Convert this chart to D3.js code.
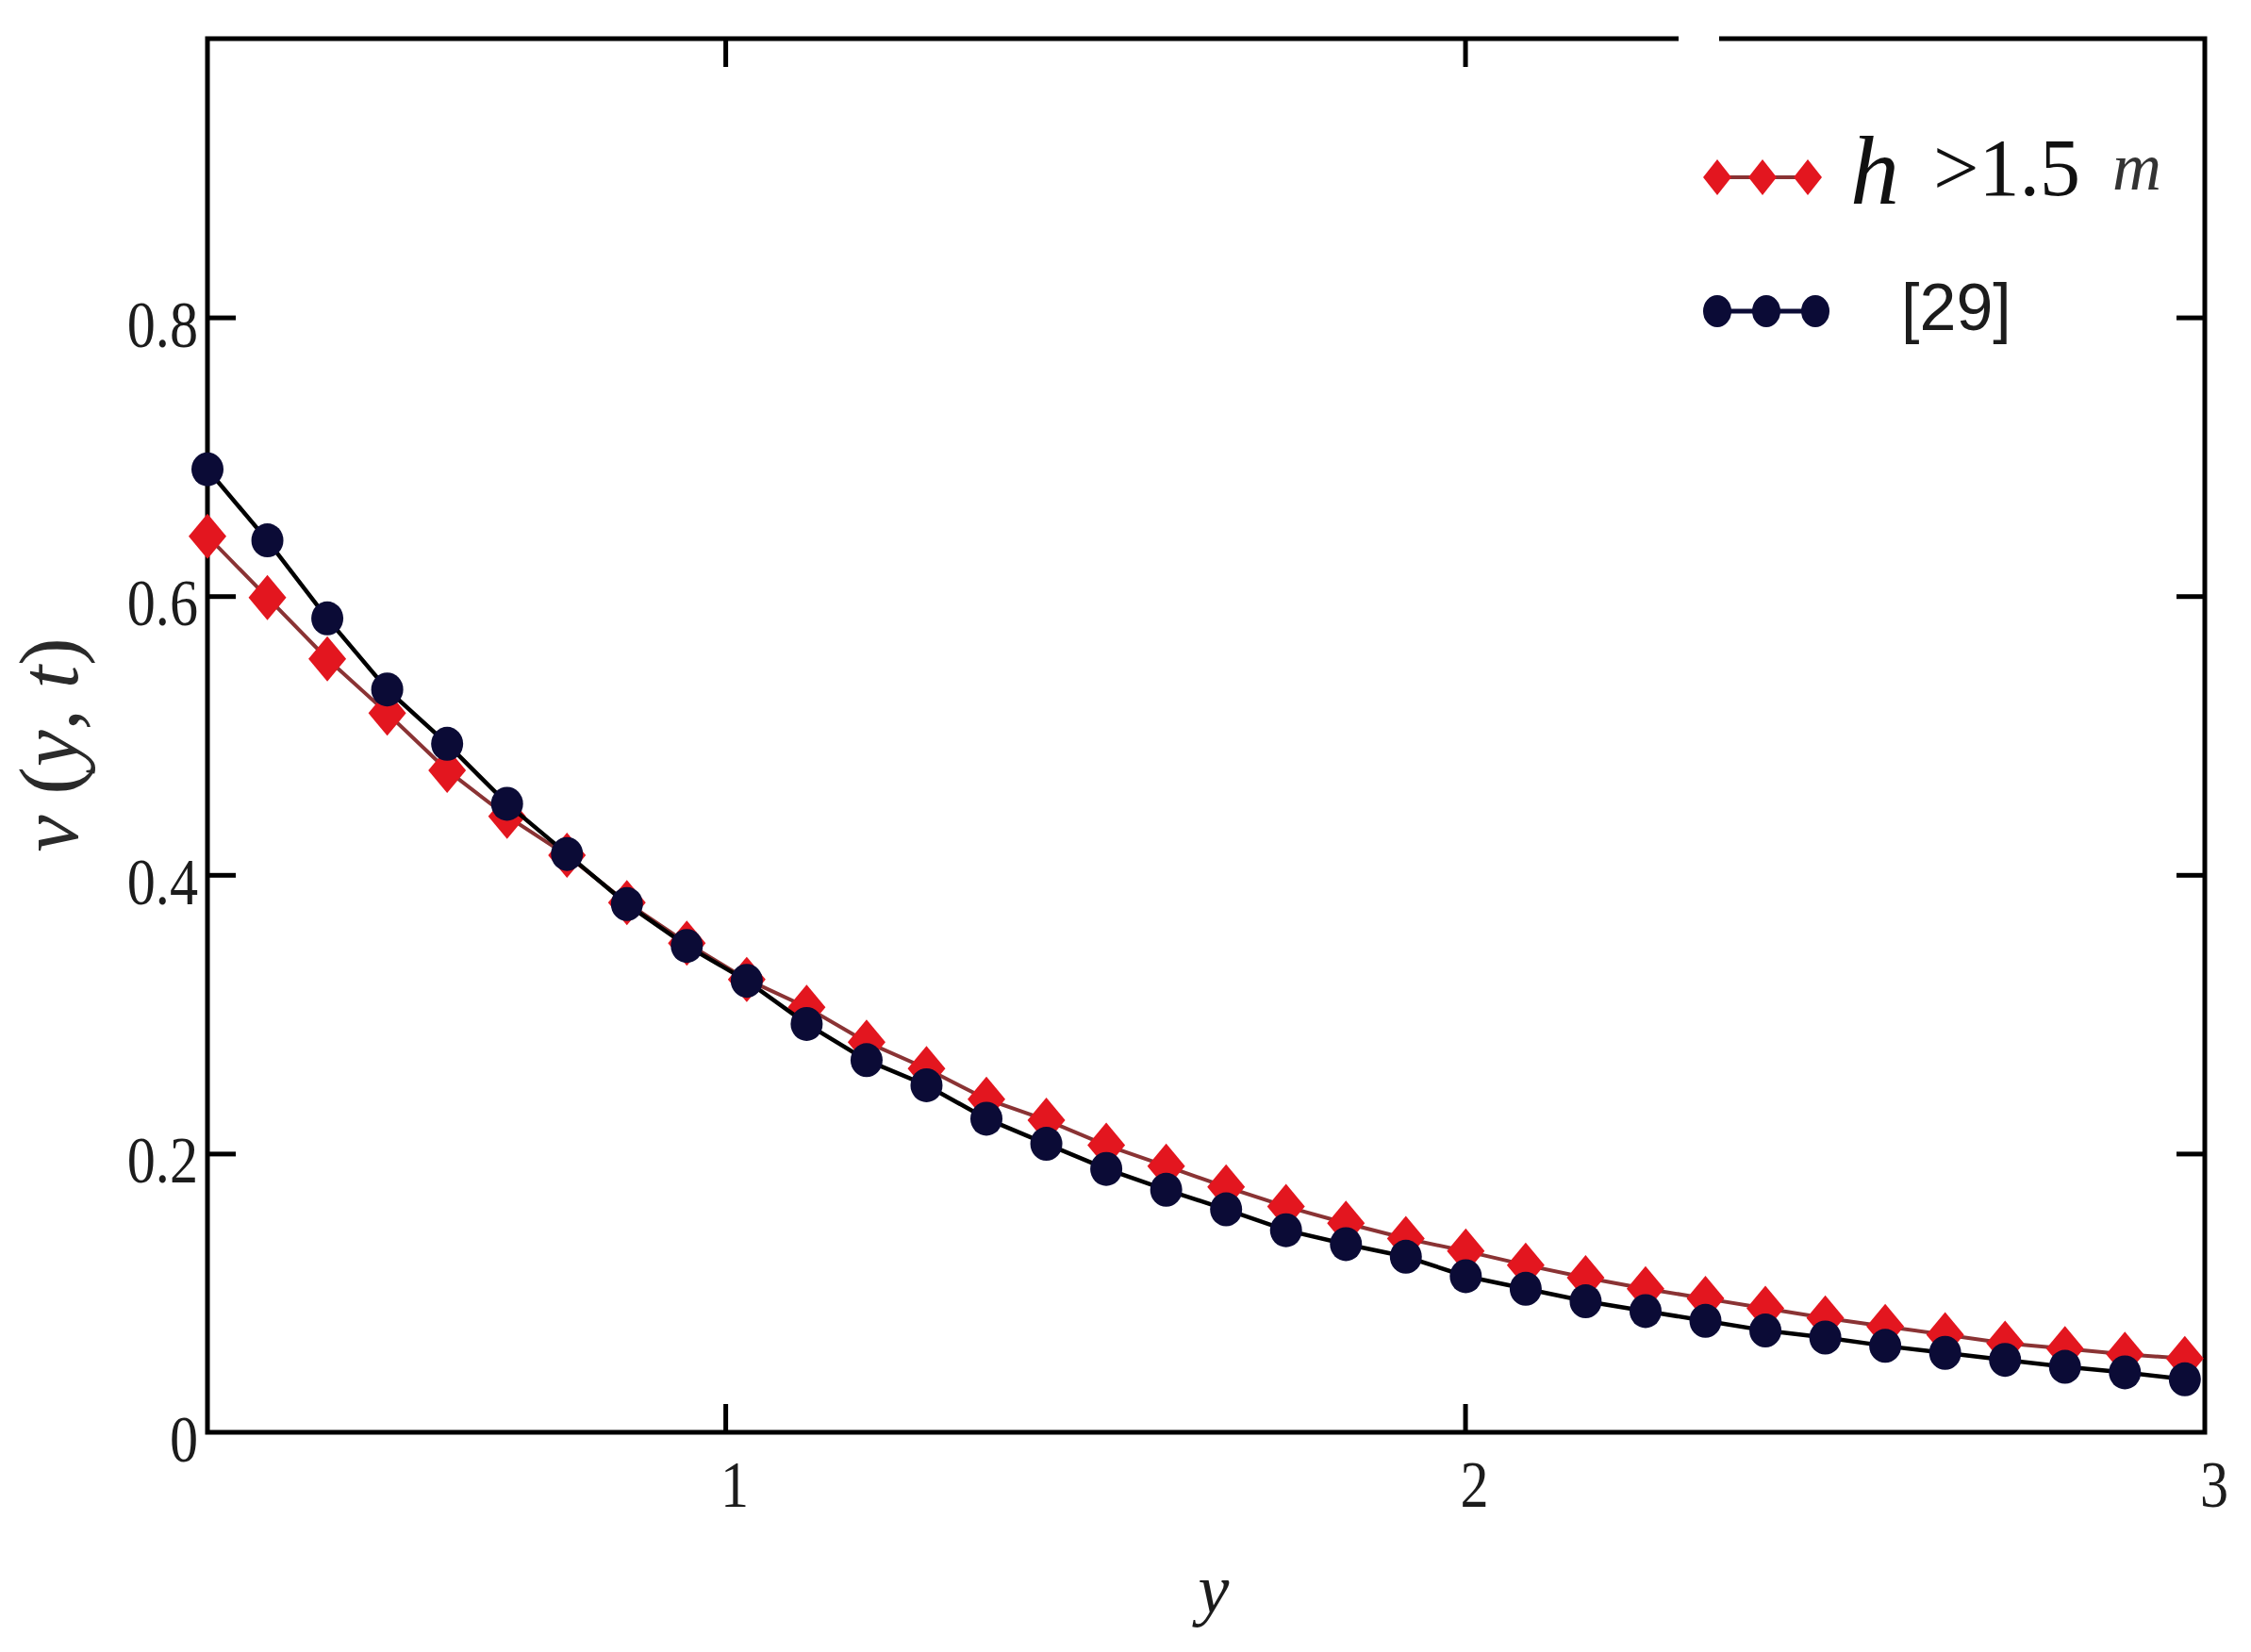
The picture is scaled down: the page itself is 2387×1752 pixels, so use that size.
<!DOCTYPE html>
<html lang="en">
<head>
    <meta charset="UTF-8">
    <title>v(y,t) profile</title>
    <script src="https://cdn.jsdelivr.net/npm/d3@7"></script>
    <style>
        body { margin: 0; background: #fff; }
    </style>
</head>
<body>
<svg width="2387" height="1752"></svg>

<script>

    // sample positions along y
    var yPos = [0.300, 0.381, 0.462, 0.543, 0.624, 0.705, 0.786, 0.867, 0.948, 1.029,
        1.110, 1.191, 1.272, 1.353, 1.434, 1.515, 1.596, 1.677, 1.758, 1.839,
        1.920, 2.001, 2.082, 2.163, 2.244, 2.325, 2.406, 2.487, 2.568, 2.649,
        2.730, 2.811, 2.892, 2.973];

    // h > 1.5 m (red)
    var vRed = [0.643, 0.599, 0.555, 0.516, 0.475, 0.442, 0.414, 0.380, 0.351, 0.325,
        0.305, 0.280, 0.261, 0.239, 0.224, 0.206, 0.191, 0.176, 0.162, 0.150,
        0.139, 0.130, 0.120, 0.111, 0.103, 0.096, 0.089, 0.082, 0.076, 0.070,
        0.064, 0.060, 0.056, 0.053];

    // [29] (black)
    var vRef = [0.691, 0.640, 0.584, 0.533, 0.494, 0.451, 0.415, 0.379, 0.349, 0.324,
        0.293, 0.267, 0.249, 0.225, 0.207, 0.189, 0.174, 0.160, 0.145, 0.135,
        0.126, 0.112, 0.103, 0.094, 0.087, 0.080, 0.073, 0.068, 0.062, 0.057,
        0.052, 0.047, 0.043, 0.038];

    var xTicks = [1, 2];
    var xLabels = [1, 2, 3];
    var yTicks = [0.2, 0.4, 0.6, 0.8];
    var yLabels = [0, 0.2, 0.4, 0.6, 0.8];

    var svg = d3.select("svg");

    var x = d3.scaleLinear().domain([0.3, 3]).range([220, 2338]);
    var y = d3.scaleLinear().domain([0, 1]).range([1519, 41]);

    var redFill = "#e3161f", redLine = "#8a3334";
    var navy = "#0b0b36";

    svg.append("rect").attr("width", 2387).attr("height", 1752).attr("fill", "#fff");

    /* ticks, all pointing inward */
    var tickLen = -30;
    var axes = [
        [d3.axisBottom(x).tickValues(xTicks), "translate(0," + y(0) + ")"],
        [d3.axisTop(x).tickValues(xTicks), "translate(0," + y(1) + ")"],
        [d3.axisLeft(y).tickValues(yTicks), "translate(" + x(0.3) + ",0)"],
        [d3.axisRight(y).tickValues(yTicks), "translate(" + x(3) + ",0)"]
    ];
    axes.forEach(function (a) {
        var g = svg.append("g")
            .attr("transform", a[1])
            .call(a[0].tickSize(tickLen).tickFormat(""));
        g.select(".domain").remove();
        g.selectAll(".tick line").attr("stroke", "#000").attr("stroke-width", 5);
    });

    // frame
    svg.append("rect")
        .attr("x", x(0.3)).attr("y", y(1))
        .attr("width", x(3) - x(0.3)).attr("height", y(0) - y(1))
        .attr("fill", "none").attr("stroke", "#000").attr("stroke-width", 5);

    // little break in the top border
    svg.append("rect").attr("x", 1780).attr("y", 34).attr("width", 43).attr("height", 14).attr("fill", "#fff");

    /* tick labels */
    svg.append("g").selectAll("text")
        .data(yLabels)
        .enter().append("text")
        .attr("transform", function (d) {
            return "translate(210," + (y(d) + 31) + ") scale(0.86,1)";
        })
        .attr("text-anchor", "end")
        .style("font-family", "'Liberation Serif', serif")
        .style("font-size", "70px")
        .attr("fill", "#1c1c1c")
        .text(function (d) { return d3.format("~g")(d); });

    svg.append("g").selectAll("text")
        .data(xLabels)
        .enter().append("text")
        .attr("transform", function (d) {
            return "translate(" + (x(d) + 10) + ",1598) scale(0.86,1)";
        })
        .attr("text-anchor", "middle")
        .style("font-family", "'Liberation Serif', serif")
        .style("font-size", "70px")
        .attr("fill", "#1c1c1c")
        .text(function (d) { return d; });

    /* axis titles */
    svg.append("text")
        .attr("x", 1287).attr("y", 1710)
        .attr("text-anchor", "middle")
        .style("font-family", "'Liberation Serif', serif")
        .style("font-style", "italic")
        .style("font-size", "74px")
        .attr("fill", "#1c1c1c")
        .text("y");

    var yt = svg.append("text")
        .attr("transform", "translate(82,790) rotate(-90)")
        .attr("text-anchor", "middle")
        .style("font-family", "'Liberation Serif', serif")
        .style("font-size", "88px")
        .attr("fill", "#2a2a2a");
    yt.append("tspan").style("font-style", "italic").text("v");
    yt.append("tspan").text(" (");
    yt.append("tspan").style("font-style", "italic").text("y");
    yt.append("tspan").text(", ");
    yt.append("tspan").style("font-style", "italic").text("t");
    yt.append("tspan").text(")");

    /* series */
    function diamond(hw, hh) {
        return "M0," + (-hh) + "L" + hw + ",0L0," + hh + "L" + (-hw) + ",0Z";
    }

    var redPts = yPos.map(function (d, i) { return {x: d, v: vRed[i]}; });
    var refPts = yPos.map(function (d, i) { return {x: d, v: vRef[i]}; });

    var line = d3.line()
        .x(function (d) { return x(d.x); })
        .y(function (d) { return y(d.v); });

    svg.append("path").datum(redPts)
        .attr("d", line).attr("fill", "none")
        .attr("stroke", redLine).attr("stroke-width", 4);

    svg.append("g").selectAll("path")
        .data(redPts)
        .enter().append("path")
        .attr("d", diamond(20, 24))
        .attr("transform", function (d) { return "translate(" + x(d.x) + "," + y(d.v) + ")"; })
        .attr("fill", redFill);

    svg.append("path").datum(refPts)
        .attr("d", line).attr("fill", "none")
        .attr("stroke", "#000").attr("stroke-width", 4.5);

    svg.append("g").selectAll("ellipse")
        .data(refPts)
        .enter().append("ellipse")
        .attr("cx", function (d) { return x(d.x); })
        .attr("cy", function (d) { return y(d.v); })
        .attr("rx", 17).attr("ry", 18)
        .attr("fill", navy);

    /* legend */
    var legendRedX = [1821, 1869, 1917];
    var legendRefX = [1821, 1873, 1925];

    svg.append("line")
        .attr("x1", legendRedX[0]).attr("x2", legendRedX[2])
        .attr("y1", 188).attr("y2", 188)
        .attr("stroke", redLine).attr("stroke-width", 4);
    svg.append("g").selectAll("path")
        .data(legendRedX)
        .enter().append("path")
        .attr("d", diamond(15, 19))
        .attr("transform", function (d) { return "translate(" + d + ",188)"; })
        .attr("fill", redFill);

    svg.append("line")
        .attr("x1", legendRefX[0]).attr("x2", legendRefX[2])
        .attr("y1", 330).attr("y2", 330)
        .attr("stroke", navy).attr("stroke-width", 5);
    svg.append("g").selectAll("ellipse")
        .data(legendRefX)
        .enter().append("ellipse")
        .attr("cx", function (d) { return d; })
        .attr("cy", 330)
        .attr("rx", 15).attr("ry", 17)
        .attr("fill", navy);

    svg.append("text")
        .attr("x", 1962).attr("y", 216)
        .style("font-family", "'Liberation Serif', serif")
        .style("font-style", "italic")
        .style("font-size", "104px")
        .attr("fill", "#111")
        .text("h");
    svg.append("text")
        .attr("x", 2050).attr("y", 207)
        .style("font-family", "'Liberation Serif', serif")
        .style("font-size", "86px")
        .attr("fill", "#111")
        .text(">1.5");
    svg.append("text")
        .attr("x", 2240).attr("y", 201)
        .style("font-family", "'Liberation Serif', serif")
        .style("font-style", "italic")
        .style("font-size", "72px")
        .attr("fill", "#333")
        .text("m");

    svg.append("text")
        .attr("x", 2016).attr("y", 350)
        .style("font-family", "'Liberation Sans', sans-serif")
        .style("font-size", "70px")
        .attr("fill", "#1c1c1c")
        .text("[29]");

</script>

</body>
</html>
